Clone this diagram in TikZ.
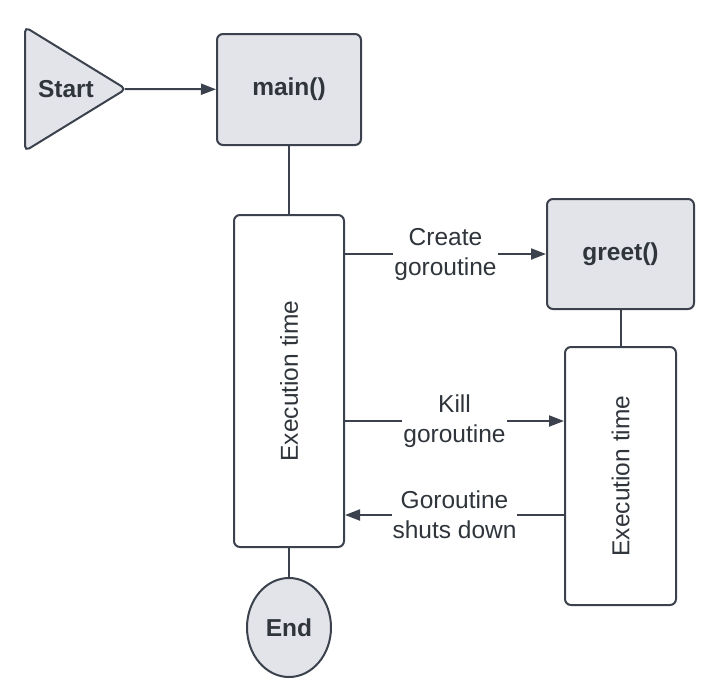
\documentclass[tikz,border=0pt]{standalone}
\usepackage{fontspec}
\setmainfont{Liberation Sans}
\usepackage{tikz}
\usetikzlibrary{shapes.geometric, arrows.meta}

\definecolor{ink}{HTML}{3C424D}
\definecolor{txt}{HTML}{30353C}
\definecolor{shade}{HTML}{E2E4E9}
\newcommand{\flowsize}{\fontsize{24.5}{30}\selectfont}

\begin{document}
\begin{tikzpicture}[x=1pt, y=-1pt,
    every node/.style={text=txt, font=\flowsize},
    line/.style={draw=ink, line width=2pt},
    arr/.style={line, -{Triangle[length=15pt, width=11pt]}},
    fn/.style={line, fill=shade, rounded corners=6pt, font=\bfseries\flowsize},
    exec/.style={line, fill=white, rounded corners=6pt},
    lbl/.style={fill=white, align=center, inner sep=1pt}]
    \useasboundingbox (0,0) rectangle (715,699);

    % start triangle
    \draw[line, fill=shade, rounded corners=5pt] (25,89) -- (25,27) -- (126,89) -- (25,151) -- cycle;
    \node[font=\bfseries\flowsize] at (66,89) (start) {Start};
    \coordinate (starttip) at (125,89);

    \node[fn, minimum width=144, minimum height=111] at (289,89.5) (main) {main()};
    \node[exec, minimum width=110, minimum height=332] at (289,381) (exec1) {};
    \node[rotate=90] at (exec1) (exec1txt) {Execution time};
    \node[line, ellipse, fill=shade, minimum width=84, minimum height=99, inner sep=0pt, font=\bfseries\flowsize] at (289,627.5) (end) {End};

    \node[fn, minimum width=147, minimum height=110] at (620.5,254) (greet) {greet()};
    \node[exec, minimum width=111, minimum height=258] at (620.5,476) (exec2) {};
    \node[rotate=90] at (exec2) (exec2txt) {Execution time};

    \coordinate (kill) at (454,421);
    \coordinate (shut) at (454,515);

    \draw[arr] (starttip) -- (main);
    \draw[line] (main) -- (exec1);
    \draw[line] (exec1) -- (end);
    \draw[line] (greet) -- (exec2);
    \draw[arr] (exec1.east |- greet) -- node[lbl] {Create\\goroutine} (greet);
    \draw[arr] (exec1.east |- kill) -- node[lbl] {Kill\\goroutine} (exec2.west |- kill);
    \draw[arr] (exec2.west |- shut) -- node[lbl] {Goroutine\\shuts down} (exec1.east |- shut);
\end{tikzpicture}
\end{document}
